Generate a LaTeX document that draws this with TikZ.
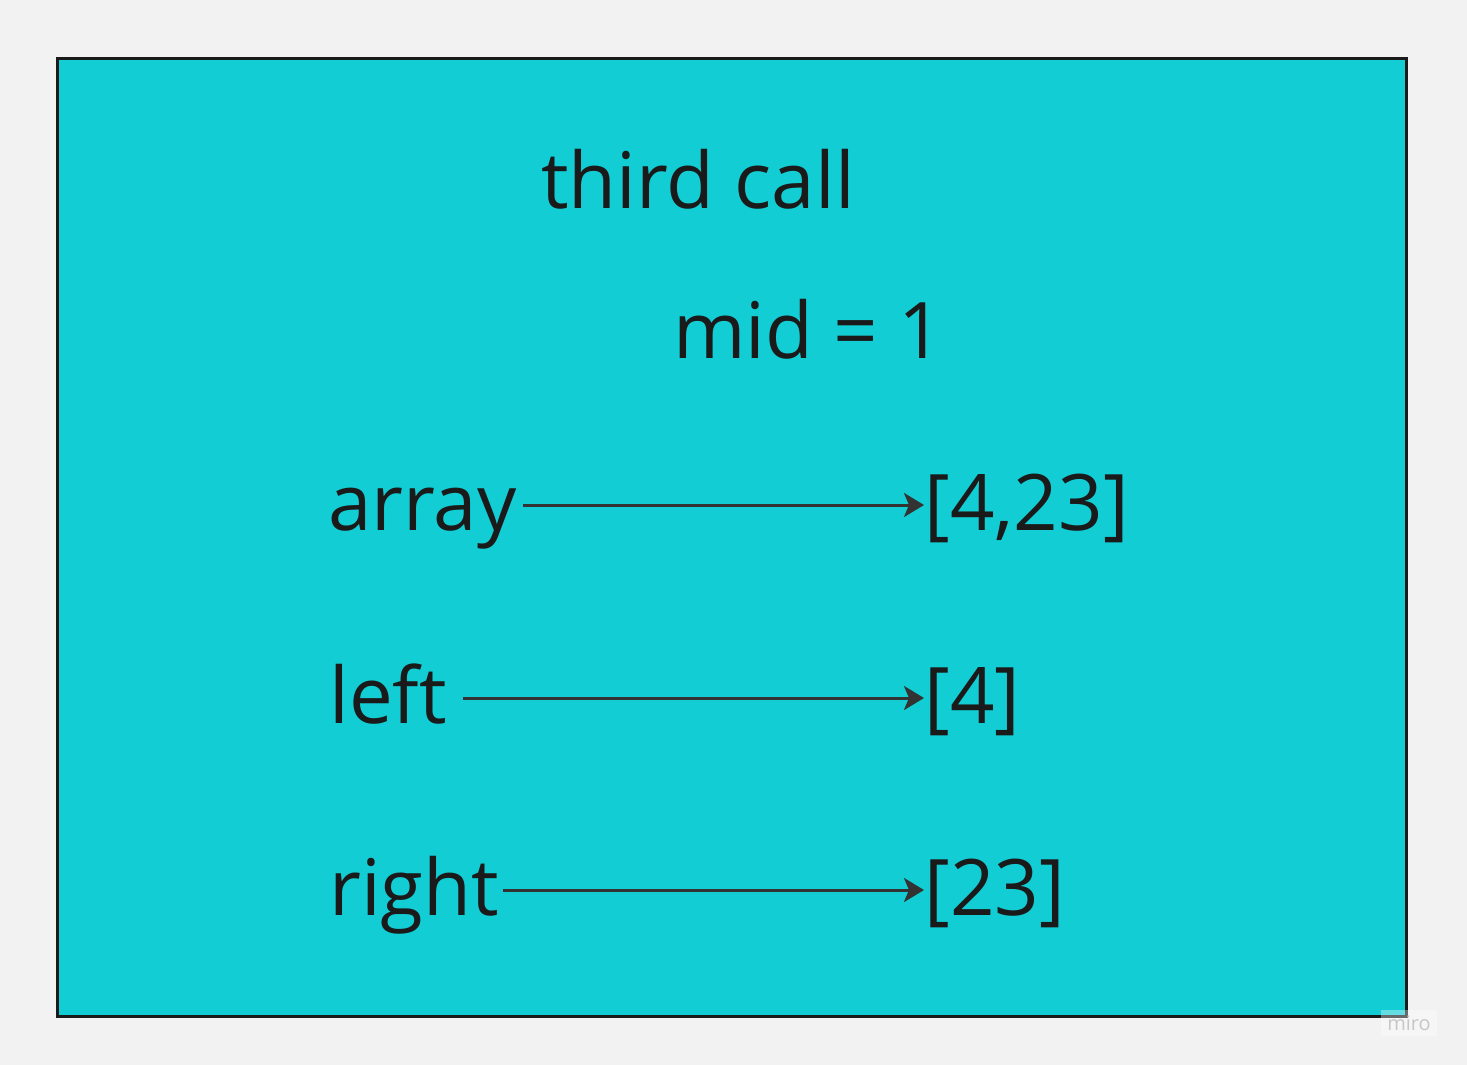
\documentclass[tikz,border=0pt]{standalone}
\usepackage{fontspec}
\setmainfont{Open Sans}
\usetikzlibrary{arrows.meta}
\definecolor{boardgray}{HTML}{F2F2F2}
\definecolor{framecyan}{HTML}{12CDD4}
\definecolor{inkdark}{HTML}{1A1A1A}
\definecolor{arrowdark}{HTML}{333333}
\tikzset{
  word/.style={anchor=base west, inner sep=0pt, text=inkdark,
    font=\fontsize{39pt}{47pt}\selectfont, text height=34.6pt, text depth=9.6pt},
  pointer/.style={draw=arrowdark, line width=1.5pt, -{Stealth[length=10pt,width=12pt,inset=2.5pt]}}
}
\begin{document}
\begin{tikzpicture}[x=0.5pt,y=-0.5pt]
  \fill[boardgray] (0,0) rectangle (1467,1065);
  \useasboundingbox (0,0) rectangle (1467,1065);
  \draw[fill=framecyan, draw=inkdark, line width=1.5pt] (57,59) rectangle (1406,1016);
  \node[word] (title) at (541,208) {third call};
  \node[word] (mid) at (673,358) {mid = 1};
  \node[word] (arr) at (328,530) {array};
  \node[word] (lft) at (329,723) {left};
  \node[word] (rgt) at (329,915) {right};
  \node[word] (arrval) at (924,530) {[4,23]};
  \node[word] (lftval) at (924,723) {[4]};
  \node[word] (rgtval) at (924,915) {[23]};
  \draw[pointer, shorten <=3pt] (arr.east) -- (arrval.west);
  \draw[pointer, shorten <=8pt] (lft.east) -- (lftval.west);
  \draw[pointer, shorten <=1.5pt] (rgt.east) -- (rgtval.west);
  \node[fill=white, fill opacity=0.35, text opacity=1, text=black!22, inner sep=3pt,
    font=\fontsize{10pt}{12pt}\selectfont] (brand) at (1409,1023) {miro};
\end{tikzpicture}
\end{document}
